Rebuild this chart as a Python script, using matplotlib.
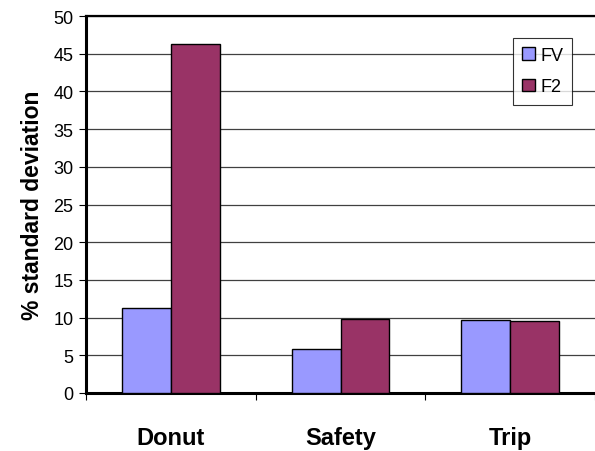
import numpy as np
import matplotlib
matplotlib.use("Agg")
import matplotlib.pyplot as plt

plt.rcParams['font.family'] = ['Liberation Sans', 'DejaVu Sans']

categories = ['Donut', 'Safety', 'Trip']
fv = [11.3, 5.9, 9.7]
f2 = [46.3, 9.8, 9.5]

fig = plt.figure(figsize=(5.95, 4.52), dpi=100)
ax = fig.add_axes([86 / 595, 1 - 394 / 452, 1 - 86 / 595, (394 - 17) / 452])

x = np.arange(len(categories))
w = 0.288
ax.bar(x - w / 2, fv, w, color='#9999FF', edgecolor='black', lw=1, label='FV', zorder=3)
ax.bar(x + w / 2, f2, w, color='#993366', edgecolor='black', lw=1, label='F2', zorder=3)

ax.set_ylim(0, 50)
ax.set_xlim(-0.5, 2.5)
ax.set_yticks(range(0, 51, 5))
ax.yaxis.grid(True, color='#404040', lw=0.9, zorder=0)
ax.tick_params(axis='y', labelsize=13, length=5, width=0.8, direction='out', pad=4)

ax.set_xticks(x)
ax.set_xticklabels(categories, fontsize=17, fontweight='bold')
ax.tick_params(axis='x', length=0, pad=24)
ax.set_xticks([-0.5, 0.5, 1.5, 2.5], minor=True)
ax.tick_params(axis='x', which='minor', length=5, width=0.8, direction='out')

ax.set_ylabel('% standard deviation', fontsize=16.5, fontweight='bold', labelpad=7)

for side in ['left', 'bottom']:
    ax.spines[side].set_linewidth(2.2)
ax.spines['top'].set_linewidth(1.6)
ax.spines['right'].set_visible(False)

leg = ax.legend(loc='upper left', bbox_to_anchor=(513 / 595, 1 - 39 / 452),
                bbox_transform=fig.transFigure, fontsize=13, frameon=True,
                fancybox=False, edgecolor='black', handlelength=0.7,
                handleheight=0.7, handletextpad=0.3, borderpad=0.5,
                labelspacing=0.8, borderaxespad=0)
leg.get_frame().set_linewidth(0.8)

fig.savefig('out.png', dpi=100)
